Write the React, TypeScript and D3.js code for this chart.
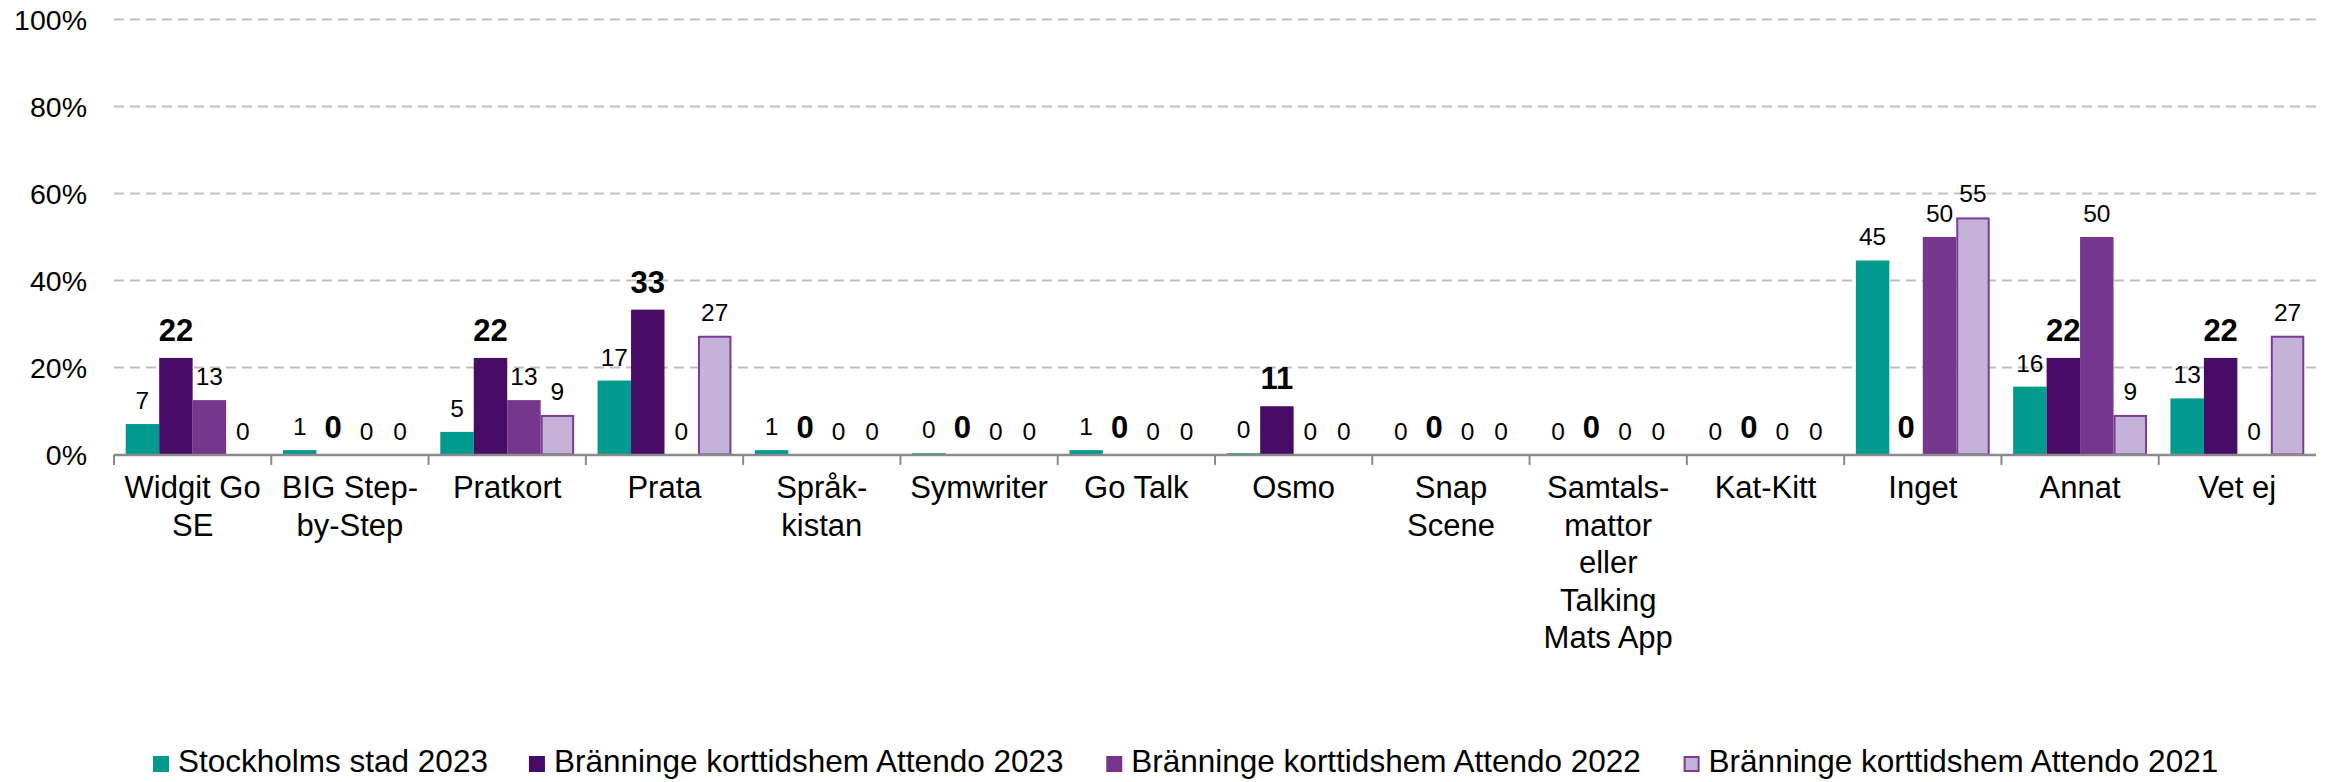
import React, { useEffect } from "react";
import * as d3 from "d3";

// categories (line breaks as in the original axis)
const categories = [
  "Widgit Go SE", "BIG Step-by-Step", "Pratkort", "Prata", "Språkkistan",
  "Symwriter", "Go Talk", "Osmo", "Snap Scene", "Samtalsmattor",
  "Kat-Kitt", "Inget", "Annat", "Vet ej",
];
const categoryLines = [
  ["Widgit Go", "SE"], ["BIG Step-", "by-Step"], ["Pratkort"], ["Prata"],
  ["Språk-", "kistan"], ["Symwriter"], ["Go Talk"], ["Osmo"], ["Snap", "Scene"],
  ["Samtals-", "mattor", "eller", "Talking", "Mats App"], ["Kat-Kitt"],
  ["Inget"], ["Annat"], ["Vet ej"],
];

const seriesNames = [
  "Stockholms stad 2023",
  "Bränninge korttidshem Attendo 2023",
  "Bränninge korttidshem Attendo 2022",
  "Bränninge korttidshem Attendo 2021",
];

// percent values per series
const stockholm2023 = [7, 1, 5.2, 17, 1, 0.3, 1, 0.3, 0, 0, 0, 44.6, 15.6, 12.9];
const branninge2023 = [22.2, 0, 22.2, 33.3, 0, 0, 0, 11.1, 0, 0, 0, 0, 22.2, 22.2];
const branninge2022 = [12.5, 0, 12.5, 0, 0, 0, 0, 0, 0, 0, 0, 50, 50, 0];
const branninge2021 = [0, 0, 9.1, 27.3, 0, 0, 0, 0, 0, 0, 0, 54.5, 9.1, 27.3];

const seriesValues = [stockholm2023, branninge2023, branninge2022, branninge2021];
const colors = ["#009a8f", "#470c65", "#75368b", "#c4b2d8"];
const strokes = [null, null, null, "#7b3c94"];
const boldLabel = [false, true, false, false];

const yTicks = [0, 20, 40, 60, 80, 100];

const FONT = "'Liberation Sans', Arial, sans-serif";
const W = 2331;
const H = 782;

function textWidth(text: string, size: number) {
  const ctx = document.createElement("canvas").getContext("2d");
  if (!ctx) return text.length * size * 0.5;
  ctx.font = `${size}px ${FONT}`;
  return ctx.measureText(text).width;
}

export default function App() {
  useEffect(() => {
    document.body.style.margin = "0";
  }, []);

  const x = d3.scaleBand().domain(categories).range([114, 2316]).padding(0);
  const xs = d3.scaleBand().domain(seriesNames).range([0, x.bandwidth()])
    .paddingInner(0).paddingOuter(0.35);
  const y = d3.scaleLinear().domain([0, 100]).range([454.5, 19.5]);

  // legend layout
  const legendFont = 31.5;
  let lx = 153;
  const legendItems = seriesNames.map((name, i) => {
    const item = { name, i, x: lx };
    lx += 16 + 10 + textWidth(name, legendFont) + 40;
    return item;
  });

  return (
    <svg width={W} height={H} style={{ display: "block", background: "#fff" }}
      fontFamily={FONT}>
      {/* gridlines */}
      {yTicks.filter(t => t > 0).map(t => (
        <line key={t} x1={114} x2={2316} y1={y(t)} y2={y(t)}
          stroke="#bfbfbf" strokeWidth={2} strokeDasharray="10,6" />
      ))}
      {/* y labels */}
      {yTicks.map(t => (
        <text key={t} x={87} y={y(t) + 10} textAnchor="end" fontSize={28.5}
          fill="#000">{t}%</text>
      ))}

      {/* bars */}
      {seriesValues.map((vals, s) => (
        <g key={s}>
          {vals.map((v, c) => v > 0 && (
            <rect key={c}
              x={(x(categories[c]) as number) + (xs(seriesNames[s]) as number) + (strokes[s] ? 1 : 0)}
              y={y(v) + (strokes[s] ? 1 : 0)}
              width={xs.bandwidth() - (strokes[s] ? 2 : 0)}
              height={Math.max(0, y(0) - y(v) - (strokes[s] ? 1 : 0))}
              fill={colors[s]}
              stroke={strokes[s] || "none"} strokeWidth={2} />
          ))}
        </g>
      ))}

      {/* axis */}
      <line x1={114} x2={2316} y1={455} y2={455} stroke="#8a8a8a" strokeWidth={2.5} />
      {categories.map(c => (
        <line key={c} x1={x(c) as number} x2={x(c) as number} y1={455} y2={465}
          stroke="#8a8a8a" strokeWidth={2} />
      ))}

      {/* value labels */}
      {seriesValues.map((vals, s) => (
        <g key={s}>
          {vals.map((v, c) => (
            <text key={c}
              x={(x(categories[c]) as number) + (xs(seriesNames[s]) as number) + xs.bandwidth() / 2}
              y={y(v) - (boldLabel[s] ? 17 : 15)}
              textAnchor="middle"
              fontSize={boldLabel[s] ? 31 : 24.5}
              fontWeight={boldLabel[s] ? "bold" : "normal"}
              fill="#000">{Math.round(v)}</text>
          ))}
        </g>
      ))}

      {/* category labels */}
      {categories.map((c, i) => (
        <text key={c} x={(x(c) as number) + x.bandwidth() / 2} y={498}
          textAnchor="middle" fontSize={31} fill="#000">
          {categoryLines[i].map((line, k) => (
            <tspan key={k} x={(x(c) as number) + x.bandwidth() / 2} dy={k === 0 ? 0 : 37.5}>
              {line}
            </tspan>
          ))}
        </text>
      ))}

      {/* legend */}
      {legendItems.map(item => (
        <g key={item.name}>
          <rect x={item.x + (strokes[item.i] ? 1 : 0)} y={756 + (strokes[item.i] ? 1 : 0)}
            width={strokes[item.i] ? 14 : 16} height={strokes[item.i] ? 14 : 16}
            fill={colors[item.i]} stroke={strokes[item.i] || "none"} strokeWidth={2} />
          <text x={item.x + 25} y={772} fontSize={legendFont} fill="#000">{item.name}</text>
        </g>
      ))}
    </svg>
  );
}
